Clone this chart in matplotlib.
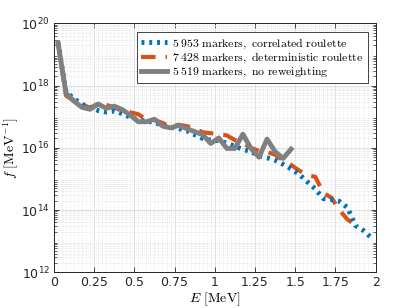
import numpy as np
import matplotlib
matplotlib.use("Agg")
import matplotlib.pyplot as plt
from matplotlib.ticker import FixedLocator, LogLocator, NullFormatter, MultipleLocator

# Energy bin centres (MeV)
energy = [0.025 + 0.05 * k for k in range(40)]

# log10 of f for each series
log_f_correlated = [19.38, 17.80, 17.58, 17.40, 17.30, 17.20, 17.15, 17.18, 17.10, 16.98,
                    16.90, 16.86, 16.82, 16.72, 16.66, 16.62, 16.55, 16.42, 16.30, 16.25,
                    16.23, 16.15, 16.05, 15.95, 15.88, 15.74, 15.68, 15.60, 15.47, 15.32,
                    15.15, 14.91, 14.68, 14.37, 14.34, 14.28, 14.08, 13.50, 13.34, 13.10]
log_f_deterministic = [19.38, 17.68, 17.50, 17.40, 17.28, 17.43, 17.38, 17.30, 17.18, 17.14,
                       17.08, 16.90, 16.90, 16.80, 16.70, 16.74, 16.70, 16.62, 16.50, 16.47,
                       16.44, 16.40, 16.25, 16.15, 16.00, 15.90, 15.87, 15.78, 15.60, 15.45,
                       15.27, 15.12, 15.07, 14.55, 14.40, 14.00, 13.70, 13.52]
log_f_none = [19.38, 17.76, 17.50, 17.30, 17.24, 17.41, 17.27, 17.34, 17.23, 17.05,
              16.84, 16.84, 16.92, 16.70, 16.64, 16.72, 16.62, 16.52, 16.42, 16.14,
              16.32, 15.98, 15.98, 16.44, 15.98, 15.70, 16.28, 15.88, 15.66, 15.96]

labels = [r"$\mathrm{5\:953\ markers,\ correlated\ roulette}$",
          r"$\mathrm{7\:428\ markers,\ deterministic\ roulette}$",
          r"$\mathrm{5\:519\ markers,\ no\ reweighting}$"]

x_ticks = [0, 0.25, 0.5, 0.75, 1, 1.25, 1.5, 1.75, 2]
x_tick_labels = ["0", "0.25", "0.5", "0.75", "1", "1.25", "1.5", "1.75", "2"]
y_ticks = [1e12, 1e14, 1e16, 1e18, 1e20]
y_tick_labels = [r"$10^{12}$", r"$10^{14}$", r"$10^{16}$", r"$10^{18}$", r"$10^{20}$"]

plt.rcParams["mathtext.fontset"] = "cm"

fig = plt.figure(figsize=(4.15, 3.08), dpi=100)
ax = fig.add_axes([0.130, 0.116, 0.775, 0.808])

blue = "#0072BD"
orange = "#D95319"
gray = "#808080"

e = np.array(energy)
ax.plot(e[:len(log_f_correlated)], 10 ** np.array(log_f_correlated), color=blue,
        linestyle=(0, (0.6, 1.0)), linewidth=3.5, label=labels[0], zorder=3)
ax.plot(e[:len(log_f_deterministic)], 10 ** np.array(log_f_deterministic), color=orange,
        linestyle=(0, (3.5, 2.4)), linewidth=3.0, label=labels[1], zorder=2)
ax.plot(e[:len(log_f_none)], 10 ** np.array(log_f_none), color=gray,
        linestyle="-", linewidth=3.5, label=labels[2], zorder=4)

ax.set_yscale("log")
ax.set_xlim(0, 2)
ax.set_ylim(1e12, 1e20)

ax.xaxis.set_major_locator(FixedLocator(x_ticks))
ax.set_xticklabels(x_tick_labels)
ax.xaxis.set_minor_locator(MultipleLocator(0.025))
ax.yaxis.set_major_locator(FixedLocator(y_ticks))
ax.set_yticklabels(y_tick_labels)
ax.yaxis.set_minor_locator(LogLocator(base=10, subs=np.arange(2, 10), numticks=100))
ax.yaxis.set_minor_formatter(NullFormatter())

for t in ax.get_xticklabels() + ax.get_yticklabels():
    t.set_fontsize(9)
    t.set_color("#262626")
    t.set_math_fontfamily("dejavusans")

ax.tick_params(which="both", direction="in", top=True, right=True, color="#262626")
ax.tick_params(which="major", length=3.5, width=0.6, pad=3)
ax.tick_params(which="minor", length=2, width=0.5)
ax.tick_params(axis="x", which="minor", length=0)

ax.grid(which="major", color="#dcdcdc", linewidth=0.6, linestyle="-")
ax.grid(which="minor", color="#e2e2e2", linewidth=0.6, linestyle=(0, (1, 1.5)))
ax.set_axisbelow(True)
for s in ax.spines.values():
    s.set_color("#262626")
    s.set_linewidth(0.7)

ax.set_xlabel(r"$E\ \mathrm{[MeV]}$", fontsize=10, labelpad=1)
ax.set_ylabel(r"$f\ \mathrm{[MeV^{-1}]}$", fontsize=10, labelpad=0)

leg = ax.legend(loc="upper right", bbox_to_anchor=(0.975, 0.965), fontsize=8.5,
                handlelength=2.2, handletextpad=0.4, borderpad=0.35, labelspacing=0.0,
                fancybox=False, framealpha=1, edgecolor="#262626", borderaxespad=0)
leg.get_frame().set_linewidth(0.6)

fig.savefig("out.png", dpi=100)
